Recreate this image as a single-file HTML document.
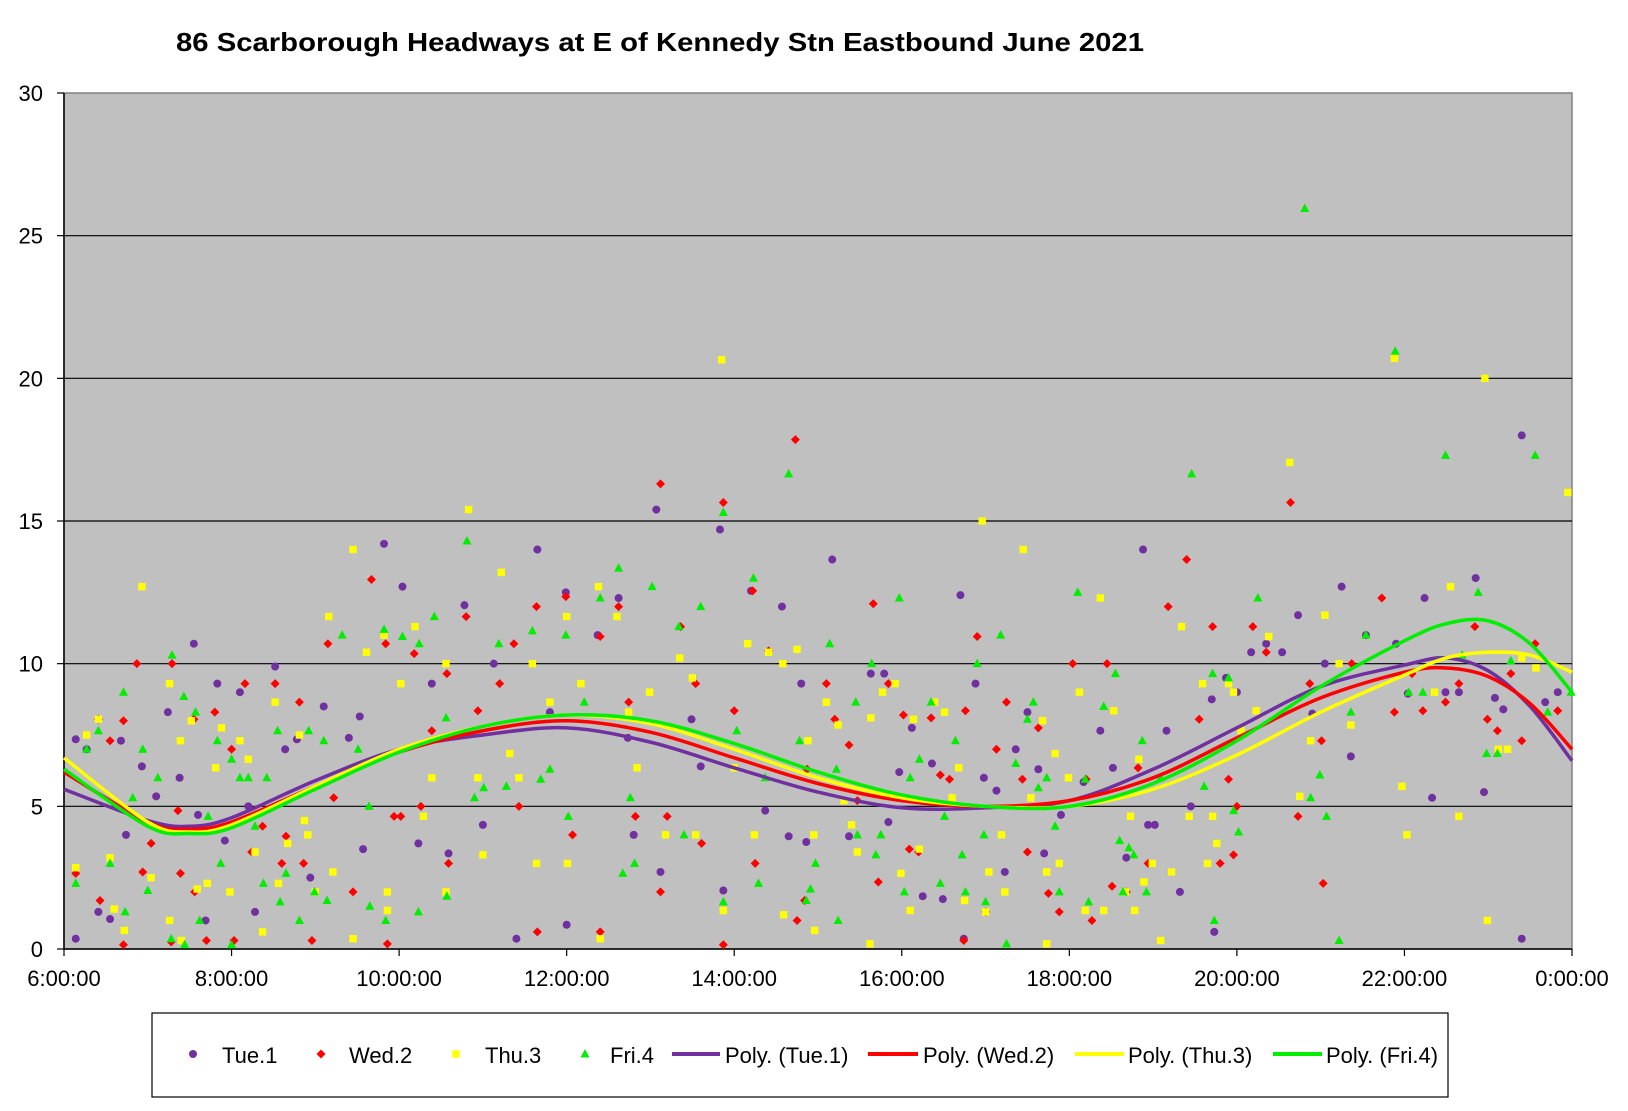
<!DOCTYPE html>
<html><head><meta charset="utf-8"><style>
html,body{margin:0;padding:0;background:#fff}
svg{display:block;font-family:"Liberation Sans",Arial,sans-serif}
</style></head><body>
<svg id="chart" width="1628" height="1111" viewBox="0 0 1628 1111" xmlns="http://www.w3.org/2000/svg">
<text x="176" y="51" font-size="26" font-weight="bold" textLength="968" lengthAdjust="spacingAndGlyphs">86 Scarborough Headways at E of Kennedy Stn Eastbound June 2021</text>
<rect x="64" y="93" width="1508" height="856" fill="#c0c0c0" stroke="#808080" stroke-width="1.5"/>
<g id="grid"></g>
<g id="axes"></g>
<g id="series"></g>
<g id="trends"></g>
<g id="legend">
<rect x="152" y="1013" width="1296" height="84" fill="#fff" stroke="#000" stroke-width="1.2"/>
</g>
</svg>
<script>
const yTicks=[0,5,10,15,20,25,30];
const xTicks=[6,8,10,12,14,16,18,20,22,24];
const xTickLabels=["6:00:00","8:00:00","10:00:00","12:00:00","14:00:00","16:00:00","18:00:00","20:00:00","22:00:00","0:00:00"];
const seriesNames=["Tue.1","Wed.2","Thu.3","Fri.4"];
const tueT=[6.14,6.14,6.27,6.41,6.55,6.68,6.74,6.93,7.1,7.24,7.38,7.55,7.6,7.69,7.83,7.92,8.1,8.2,8.28,8.52,8.64,8.78,8.94,9.1,9.4,9.53,9.57,9.82,10.04,10.23,10.39,10.59,10.78,11.0,11.13,11.4,11.65,11.8,11.99,12.0,12.37,12.62,12.73,12.8,13.07,13.12,13.49,13.6,13.83,13.87,14.2,14.37,14.57,14.65,14.8,14.86,15.17,15.37,15.63,15.79,15.84,15.97,16.12,16.25,16.36,16.49,16.7,16.74,16.88,16.98,17.13,17.23,17.36,17.5,17.63,17.7,17.9,18.17,18.37,18.52,18.68,18.88,18.94,19.02,19.16,19.32,19.45,19.7,19.73,19.87,20.0,20.17,20.35,20.54,20.73,20.9,21.05,21.25,21.36,21.54,21.9,22.04,22.24,22.33,22.49,22.65,22.85,22.95,23.08,23.18,23.4,23.4,23.68,23.83];
const tueV=[7.35,0.36,7.0,1.3,1.05,7.3,4.0,6.4,5.35,8.3,6.0,10.7,4.7,1.0,9.3,3.8,9.0,5.0,1.3,9.9,7.0,7.35,2.5,8.5,7.4,8.15,3.5,14.2,12.7,3.7,9.3,3.35,12.05,4.35,10.0,0.36,14.0,8.3,12.5,0.85,11.0,12.3,7.4,4.0,15.4,2.7,8.05,6.4,14.7,2.05,12.55,4.85,12.0,3.95,9.3,3.75,13.65,3.95,9.65,9.65,4.45,6.2,7.75,1.85,6.5,1.75,12.4,0.36,9.3,6.0,5.55,2.7,7.0,8.3,6.3,3.35,4.7,5.85,7.65,6.35,3.2,14.0,4.35,4.35,7.65,2.0,5.0,8.75,0.6,9.5,9.0,10.4,10.7,10.4,11.7,8.25,10.0,12.7,6.75,11.0,10.7,8.95,12.3,5.3,9.0,9.0,13.0,5.5,8.8,8.4,18.0,0.36,8.65,9.0];
const wedT=[6.14,6.41,6.43,6.55,6.71,6.71,6.87,6.94,7.04,7.28,7.29,7.36,7.39,7.55,7.56,7.7,7.8,8.0,8.03,8.16,8.24,8.37,8.52,8.6,8.65,8.81,8.86,8.96,9.15,9.22,9.45,9.67,9.86,9.84,9.94,10.02,10.18,10.26,10.39,10.57,10.59,10.8,10.94,11.2,11.37,11.43,11.64,11.65,11.99,12.07,12.4,12.4,12.62,12.74,12.82,13.12,13.12,13.2,13.36,13.54,13.61,13.87,13.87,14.0,14.22,14.25,14.41,14.73,14.75,14.84,14.87,15.1,15.2,15.37,15.47,15.66,15.72,15.84,16.02,16.09,16.2,16.35,16.46,16.57,16.74,16.76,16.9,17.0,17.13,17.25,17.44,17.5,17.63,17.75,17.88,18.04,18.2,18.27,18.45,18.51,18.68,18.82,18.94,19.18,19.4,19.55,19.71,19.8,19.9,19.96,20.0,20.19,20.35,20.64,20.73,20.87,21.01,21.03,21.37,21.73,21.88,22.09,22.22,22.49,22.65,22.84,22.99,23.11,23.27,23.4,23.56,23.83];
const wedV=[2.65,8.05,1.7,7.3,8.0,0.15,10.0,2.7,3.7,0.25,10.0,4.85,2.65,8.05,2.0,0.3,8.3,7.0,0.3,9.3,3.4,4.3,9.3,3.0,3.95,8.65,3.0,0.3,10.7,5.3,2.0,12.95,0.18,10.7,4.65,4.65,10.35,5.0,7.65,9.65,3.0,11.65,8.35,9.3,10.7,5.0,12.0,0.6,12.35,4.0,10.95,0.6,12.0,8.65,4.65,16.3,2.0,4.65,11.3,9.3,3.7,15.65,0.15,8.35,12.55,3.0,10.45,17.85,1.0,1.7,6.3,9.3,8.05,7.15,5.2,12.1,2.35,9.3,8.2,3.5,3.4,8.1,6.1,5.95,0.3,8.35,10.95,1.3,7.0,8.65,5.95,3.4,7.75,1.95,1.3,10.0,5.95,1.0,10.0,2.2,2.0,6.35,3.0,12.0,13.65,8.05,11.3,3.0,5.95,3.3,5.0,11.3,10.4,15.65,4.65,9.3,7.3,2.3,10.0,12.3,8.3,9.65,8.35,8.65,9.3,11.3,8.05,7.65,9.65,7.3,10.7,8.35];
const thuT=[6.14,6.27,6.41,6.55,6.6,6.72,6.93,7.04,7.26,7.26,7.39,7.4,7.52,7.59,7.71,7.81,7.88,7.98,8.1,8.2,8.28,8.37,8.52,8.56,8.67,8.81,8.87,8.91,9.0,9.16,9.21,9.45,9.45,9.61,9.86,9.86,9.82,10.02,10.19,10.29,10.39,10.56,10.56,10.83,10.94,11.0,11.22,11.32,11.43,11.59,11.64,11.8,12.0,12.01,12.17,12.38,12.4,12.6,12.74,12.84,12.99,13.18,13.35,13.5,13.54,13.85,13.87,14.0,14.16,14.24,14.41,14.58,14.59,14.75,14.88,14.95,14.96,15.1,15.24,15.31,15.4,15.47,15.62,15.63,15.77,15.92,15.99,16.1,16.14,16.21,16.39,16.51,16.6,16.68,16.75,16.96,17.0,17.04,17.19,17.23,17.45,17.54,17.68,17.73,17.73,17.83,17.88,17.99,18.12,18.19,18.37,18.41,18.53,18.67,18.73,18.78,18.83,18.89,18.99,19.09,19.22,19.34,19.43,19.59,19.65,19.71,19.76,19.9,19.96,20.05,20.23,20.38,20.63,20.75,20.88,21.05,21.22,21.36,21.88,21.97,22.03,22.36,22.55,22.65,22.96,22.99,23.12,23.23,23.4,23.57,23.95];
const thuV=[2.85,7.5,8.05,3.2,1.4,0.65,12.7,2.5,1.0,9.3,7.3,0.3,8.0,2.1,2.3,6.35,7.75,2.0,7.3,6.65,3.4,0.6,8.65,2.3,3.7,7.5,4.5,4.0,2.0,11.65,2.7,14.0,0.36,10.4,2.0,1.35,11.0,9.3,11.3,4.65,6.0,10.0,2.0,15.4,6.0,3.3,13.2,6.85,6.0,10.0,3.0,8.65,11.65,3.0,9.3,12.7,0.36,11.65,8.3,6.35,9.0,4.0,10.2,9.5,4.0,20.65,1.35,6.35,10.7,4.0,10.4,10.0,1.2,10.5,7.3,4.0,0.65,8.65,7.85,5.2,4.35,3.4,0.18,8.1,9.0,9.3,2.65,1.35,8.05,3.5,8.65,8.3,5.3,6.35,1.7,15.0,1.3,2.7,4.0,2.0,14.0,5.3,8.0,2.7,0.18,6.85,3.0,6.0,9.0,1.35,12.3,1.35,8.35,2.0,4.65,1.35,6.65,2.35,3.0,0.3,2.7,11.3,4.65,9.3,3.0,4.65,3.7,9.3,9.0,7.65,8.35,10.95,17.05,5.35,7.3,11.7,10.0,7.85,20.7,5.7,4.0,9.0,12.7,4.65,20.0,1.0,7.0,7.0,10.2,9.85,16.0];
const friT=[6.14,6.27,6.41,6.55,6.71,6.73,6.82,6.94,7.0,7.12,7.28,7.29,7.43,7.44,7.57,7.62,7.72,7.83,7.87,8.0,8.0,8.1,8.2,8.28,8.38,8.42,8.55,8.58,8.65,8.81,8.92,8.99,9.1,9.14,9.32,9.42,9.51,9.64,9.65,9.82,9.84,10.04,10.23,10.24,10.42,10.56,10.57,10.81,10.9,11.01,11.19,11.28,11.59,11.69,11.8,11.99,12.02,12.21,12.4,12.62,12.67,12.76,12.81,13.02,13.34,13.4,13.6,13.87,13.87,14.03,14.23,14.29,14.37,14.65,14.78,14.86,14.91,14.97,15.14,15.22,15.24,15.45,15.47,15.64,15.69,15.75,15.97,16.03,16.1,16.21,16.35,16.46,16.51,16.64,16.72,16.76,16.9,16.98,17.0,17.18,17.25,17.36,17.5,17.57,17.63,17.73,17.83,17.88,18.1,18.19,18.23,18.41,18.55,18.6,18.64,18.71,18.77,18.87,18.92,19.09,19.46,19.61,19.71,19.73,19.9,19.96,20.02,20.25,20.81,20.88,20.99,21.07,21.22,21.36,21.54,21.89,22.05,22.22,22.49,22.69,22.88,22.98,23.11,23.27,23.56,23.71,23.99];
const friV=[2.3,7.0,7.65,3.0,9.0,1.3,5.3,7.0,2.05,6.0,0.36,10.3,8.85,0.15,8.3,1.0,4.65,7.3,3.0,6.65,0.15,6.0,6.0,4.3,2.3,6.0,7.65,1.65,2.65,1.0,7.65,2.0,7.3,1.7,11.0,6.3,7.0,5.0,1.5,11.2,1.0,10.95,1.3,10.7,11.65,8.1,1.85,14.3,5.3,5.65,10.7,5.7,11.15,5.95,6.3,11.0,4.65,8.65,12.3,13.35,2.65,5.3,3.0,12.7,11.3,4.0,12.0,15.3,1.65,7.65,13.0,2.3,6.0,16.65,7.3,1.7,2.1,3.0,10.7,6.3,1.0,8.65,4.0,10.0,3.3,4.0,12.3,2.0,6.0,6.65,8.65,2.3,4.65,7.3,3.3,2.0,10.0,4.0,1.65,11.0,0.18,6.5,8.05,8.65,5.65,6.0,4.3,2.0,12.5,5.95,1.65,8.5,9.65,3.8,2.0,3.55,3.3,7.3,2.0,6.0,16.65,5.7,9.65,1.0,9.5,4.85,4.1,12.3,25.95,5.3,6.1,4.65,0.3,8.3,11.0,20.95,9.0,9.0,17.3,10.3,12.5,6.85,6.85,10.1,17.3,8.3,9.0];
const trendT=[6,7,7.5,8,9,10,11,12,13,14,15,16,17,18,19,20,21,22,22.5,23,23.5,24];
const trendTue=[5.6,4.5,4.3,4.6,5.9,7.0,7.5,7.75,7.25,6.35,5.5,4.95,4.95,5.2,6.3,7.75,9.2,9.95,10.2,9.75,8.5,6.6];
const trendWed=[6.2,4.45,4.2,4.45,5.7,6.9,7.65,8.0,7.6,6.7,5.8,5.2,5.0,5.2,6.0,7.4,8.8,9.7,9.85,9.55,8.6,7.0];
const trendThu=[6.7,4.45,4.1,4.35,5.7,7.0,7.8,8.2,7.9,7.0,6.0,5.3,5.0,5.0,5.6,6.8,8.3,9.6,10.2,10.4,10.3,9.7];
const trendFri=[6.3,4.3,4.05,4.25,5.6,6.9,7.8,8.2,8.0,7.2,6.2,5.4,5.0,5.0,5.8,7.3,9.2,10.8,11.4,11.5,10.7,9.0];

const NS="http://www.w3.org/2000/svg";
const X0=64,X1=1572,Y0=949,Y1=93;
function xs(h){return X0+(h-6)/18*(X1-X0);}
function ys(v){return Y0-v/30*(Y0-Y1);}
function mk(tag,attrs,parent){const e=document.createElementNS(NS,tag);for(const k in attrs)e.setAttribute(k,attrs[k]);parent.appendChild(e);return e;}
const grid=document.getElementById('grid'),axes=document.getElementById('axes');
yTicks.forEach(v=>{
  if(v>0&&v<30){const l=mk('line',{x1:X0,x2:X1,y1:ys(v),y2:ys(v),stroke:'#000','stroke-width':1.2},grid);
  
  }
  const t=mk('line',{x1:X0-7,x2:X0,y1:ys(v),y2:ys(v),stroke:'#000','stroke-width':1.2},axes);
  
  
  const tx=mk('text',{x:43,y:ys(v)+8,'font-size':22,'text-anchor':'end'},axes);tx.textContent=v;
  
  
});
mk('line',{x1:X0,x2:X0,y1:Y1,y2:Y0,stroke:'#000','stroke-width':1.5},axes);
mk('line',{x1:X0,x2:X1,y1:Y0,y2:Y0,stroke:'#000','stroke-width':1.5},axes);
xTicks.forEach((h,i)=>{
  const t=mk('line',{x1:xs(h),x2:xs(h),y1:Y0,y2:Y0+7,stroke:'#000','stroke-width':1.2},axes);
  
  
  const tx=mk('text',{x:xs(h),y:986,'font-size':22,'text-anchor':'middle'},axes);tx.textContent=xTickLabels[i];
  
  
});
function marker(type,cx,cy,parent){
  if(type==0)return mk('circle',{cx:cx,cy:cy,r:4,fill:'#7030a0'},parent);
  if(type==1)return mk('polygon',{points:`${cx},${cy-4.5} ${cx+4.5},${cy} ${cx},${cy+4.5} ${cx-4.5},${cy}`,fill:'#ff0000'},parent);
  if(type==2)return mk('rect',{x:cx-3.7,y:cy-3.7,width:7.4,height:7.4,fill:'#ffff00'},parent);
  return mk('polygon',{points:`${cx},${cy-5} ${cx+4.5},${cy+3.5} ${cx-4.5},${cy+3.5}`,fill:'#00ee00'},parent);
}
const ser=document.getElementById('series');
[[tueT,tueV],[wedT,wedV],[thuT,thuV],[friT,friV]].forEach((s,k)=>{
  const g=mk('g',{},ser);
  
  
  s[0].forEach((h,i)=>{const m=marker(k,xs(h),ys(s[1][i]),g);
    
    });
});
const tr=document.getElementById('trends');
const trendColors=['#7030a0','#ff0000','#ffff00','#00ee00'];
[trendTue,trendWed,trendThu,trendFri].forEach((vals,k)=>{
  const p=trendT.map((h,i)=>[xs(h),ys(vals[i])]);
  let d='M'+p[0][0]+','+p[0][1];
  for(let i=0;i<p.length-1;i++){
    const a=p[Math.max(0,i-1)],b=p[i],c=p[i+1],e=p[Math.min(p.length-1,i+2)];
    d+=` C${b[0]+(c[0]-a[0])/6},${b[1]+(c[1]-a[1])/6} ${c[0]-(e[0]-b[0])/6},${c[1]-(e[1]-b[1])/6} ${c[0]},${c[1]}`;
  }
  const path=mk('path',{d:d,fill:'none',stroke:trendColors[k],'stroke-width':3.5},tr);
  
  
});
const lg=document.getElementById('legend');const LY=1055;
const legMarkers=[[193,222],[321,349],[456,485],[585,610]];
legMarkers.forEach((m,k)=>{
  const mm=marker(k,m[0],LY-1,lg);
  
  
  const t=mk('text',{x:m[1],y:LY+8,'font-size':22},lg);t.textContent=seriesNames[k];
  
  
});
const legLines=[[672,720,725],[868,918,923],[1075,1124,1128],[1273,1322,1326]];
legLines.forEach((m,k)=>{
  const l=mk('line',{x1:m[0],x2:m[1],y1:LY-1,y2:LY-1,stroke:trendColors[k],'stroke-width':4},lg);
  
  
  const t=mk('text',{x:m[2],y:LY+8,'font-size':22},lg);t.textContent='Poly. ('+seriesNames[k]+')';
  
  
});
</script>
</body></html>
